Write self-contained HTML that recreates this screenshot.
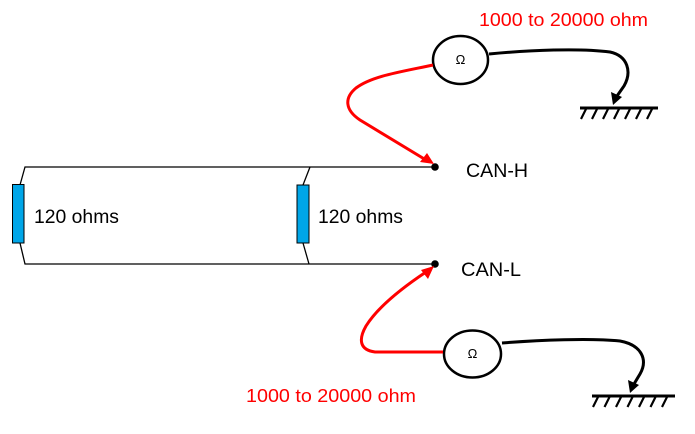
<!DOCTYPE html>
<html><head><meta charset="utf-8"><style>
html,body{margin:0;padding:0;background:#fff;}
svg{display:block;}
text{font-family:"Liberation Sans",Arial,sans-serif;}
</style></head><body>
<svg width="695" height="434" viewBox="0 0 695 434" xmlns="http://www.w3.org/2000/svg">
<rect width="695" height="434" fill="#fff"/>
<!-- wires -->
<g stroke="#000" stroke-width="1.3" fill="none">
<polyline points="20,185 25,167 434,167"/>
<polyline points="20,243 25,264 434,264"/>
<polyline points="303,185 310,167"/>
<polyline points="303,243 309,264"/>
</g>
<!-- resistors -->
<rect x="12.5" y="184.5" width="11.5" height="58.5" fill="#00a6e8" stroke="#000" stroke-width="1"/>
<rect x="297" y="185" width="12" height="58" fill="#00a6e8" stroke="#000" stroke-width="1"/>
<text x="34" y="223" font-size="19" fill="#000" textLength="85" lengthAdjust="spacingAndGlyphs">120 ohms</text>
<text x="318" y="223" font-size="19" fill="#000" textLength="85" lengthAdjust="spacingAndGlyphs">120 ohms</text>
<!-- dots -->
<circle cx="435" cy="167" r="3.8" fill="#000"/>
<circle cx="435" cy="264" r="3.8" fill="#000"/>
<text x="466" y="177" font-size="19" fill="#000" textLength="62" lengthAdjust="spacingAndGlyphs">CAN-H</text>
<text x="461" y="276" font-size="19" fill="#000" textLength="60" lengthAdjust="spacingAndGlyphs">CAN-L</text>
<!-- red labels -->
<text x="479" y="26" font-size="18" fill="#ff0000" textLength="169" lengthAdjust="spacingAndGlyphs">1000 to 20000 ohm</text>
<text x="246" y="402" font-size="18" fill="#ff0000" textLength="170" lengthAdjust="spacingAndGlyphs">1000 to 20000 ohm</text>
<!-- meters -->
<ellipse cx="460.5" cy="60" rx="27.5" ry="24" fill="#fff" stroke="#000" stroke-width="2.5"/>
<text x="460.5" y="64" font-size="13" text-anchor="middle" fill="#000">Ω</text>
<ellipse cx="472.5" cy="354" rx="28.5" ry="23.5" fill="#fff" stroke="#000" stroke-width="2.5"/>
<text x="472.5" y="358" font-size="13" text-anchor="middle" fill="#000">Ω</text>
<!-- red leads -->
<path d="M433,65 C400,72 372,76 356,88 C344,98 345,110 360,120 L426,160" fill="none" stroke="#ff0000" stroke-width="3"/>
<polygon points="434,164 420,162 427,153" fill="#ff0000"/>
<path d="M443,352 L375,352 C360,350 358,340 366,326 C376,310 396,292 426,272" fill="none" stroke="#ff0000" stroke-width="3"/>
<polygon points="434,266 428,279 421,270" fill="#ff0000"/>
<!-- black leads -->
<path d="M489,54 C530,50 580,48 610,52 C628,56 632,72 624,86 L617,96" fill="none" stroke="#000" stroke-width="3"/>
<polygon points="613,105 611,92 622,97" fill="#000"/>
<path d="M502,343 C540,340 590,338 620,341 C642,345 648,360 640,374 L634,384" fill="none" stroke="#000" stroke-width="3"/>
<polygon points="630,393 628,380 639,385" fill="#000"/>
<!-- grounds -->
<line x1="580" y1="108" x2="658" y2="108" stroke="#000" stroke-width="3"/>
<g stroke="#000" stroke-width="2.2">
<line x1="586" y1="109" x2="581" y2="119"/>
<line x1="597" y1="109" x2="592" y2="119"/>
<line x1="608" y1="109" x2="603" y2="119"/>
<line x1="619" y1="109" x2="614" y2="119"/>
<line x1="630" y1="109" x2="625" y2="119"/>
<line x1="641" y1="109" x2="636" y2="119"/>
<line x1="652" y1="109" x2="647" y2="119"/>
</g>
<line x1="592" y1="396" x2="675" y2="396" stroke="#000" stroke-width="3"/>
<g stroke="#000" stroke-width="2.2">
<line x1="598" y1="397" x2="593" y2="407"/>
<line x1="609.5" y1="397" x2="604.5" y2="407"/>
<line x1="621" y1="397" x2="616" y2="407"/>
<line x1="632.5" y1="397" x2="627.5" y2="407"/>
<line x1="644" y1="397" x2="639" y2="407"/>
<line x1="655.5" y1="397" x2="650.5" y2="407"/>
<line x1="667" y1="397" x2="662" y2="407"/>
</g>
</svg>
</body></html>
